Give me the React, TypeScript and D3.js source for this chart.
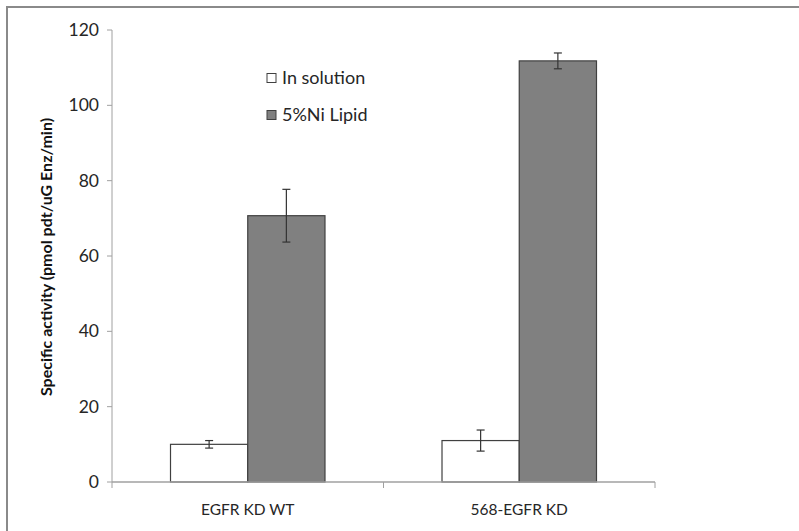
import React from "react";
import * as d3 from "d3";

const categories = ["EGFR KD WT", "568-EGFR KD"];
const seriesNames = ["In solution", "5%Ni Lipid"];
const inSolution = [10, 11];
const inSolutionErr = [1.0, 2.8];
const niLipid = [70.7, 111.8];
const niLipidErr = [7.0, 2.1];
const yTicks = [0, 20, 40, 60, 80, 100, 120];

const colors = ["#ffffff", "#808080"];

export default function App() {
  const width = 799, height = 531;
  const margin = { top: 30, left: 112, right: 144, bottom: 49 };
  const plotRight = width - margin.right;
  const plotBottom = height - margin.bottom;

  const x = d3.scaleBand().domain(categories).range([margin.left, plotRight])
    .paddingInner(0.431).paddingOuter(0.2155);
  const xs = d3.scaleBand().domain(seriesNames).range([0, x.bandwidth()]);
  const y = d3.scaleLinear().domain([0, 120]).range([plotBottom, margin.top]);

  const series = [
    { name: seriesNames[0], values: inSolution, errs: inSolutionErr, color: colors[0] },
    { name: seriesNames[1], values: niLipid, errs: niLipidErr, color: colors[1] },
  ];

  const font = "Lato, 'Open Sans', sans-serif";
  const axisColor = "#a0a0a0";
  const step = x.step();
  const boundaries = [margin.left, margin.left + step, plotRight];

  return (
    <div style={{ position: "fixed", left: 0, top: 0 }}>
      <svg width={width} height={height} style={{ display: "block", background: "#fff" }}>
        {/* outer frame */}
        <path d={`M7,${height} V7 H${width}`} fill="none" stroke="#8a8a8a" strokeWidth={2} />

        {/* y axis */}
        <line x1={margin.left} x2={margin.left} y1={y(120)} y2={plotBottom} stroke={axisColor} />
        {yTicks.map(t => (
          <g key={t}>
            <line x1={margin.left - 5} x2={margin.left} y1={y(t)} y2={y(t)} stroke={axisColor} />
            <text x={margin.left - 13} y={y(t)} dy="0.35em" textAnchor="end"
              fontFamily={font} fontSize={17.5} fill="#262626">{t}</text>
          </g>
        ))}

        {/* bars */}
        {series.map(s => categories.map((c, i) => {
          const bx = (x(c) ?? 0) + (xs(s.name) ?? 0);
          const top = y(s.values[i]);
          return (
            <rect key={s.name + c} x={bx} y={top} width={xs.bandwidth()} height={plotBottom - top}
              fill={s.color} stroke="#404040" strokeWidth={1.2} />
          );
        }))}

        {/* error bars */}
        {series.map(s => categories.map((c, i) => {
          const cx = (x(c) ?? 0) + (xs(s.name) ?? 0) + xs.bandwidth() / 2;
          const hi = y(s.values[i] + s.errs[i]);
          const lo = y(s.values[i] - s.errs[i]);
          return (
            <g key={"e" + s.name + c} stroke="#333" strokeWidth={1.2}>
              <line x1={cx} x2={cx} y1={hi} y2={lo} />
              <line x1={cx - 4} x2={cx + 4} y1={hi} y2={hi} />
              <line x1={cx - 4} x2={cx + 4} y1={lo} y2={lo} />
            </g>
          );
        }))}

        {/* x axis */}
        <line x1={margin.left} x2={plotRight} y1={plotBottom} y2={plotBottom} stroke={axisColor} strokeWidth={1.5} />
        {boundaries.map((b, i) => (
          <line key={i} x1={b} x2={b} y1={plotBottom} y2={plotBottom + 6} stroke={axisColor} />
        ))}
        {categories.map(c => (
          <text key={c} x={(x(c) ?? 0) + x.bandwidth() / 2} y={515} textAnchor="middle"
            fontFamily={font} fontSize={15.5} fill="#262626">{c}</text>
        ))}

        {/* y title */}
        <text transform={`translate(52,${(margin.top + plotBottom) / 2 + 1}) rotate(-90)`} textAnchor="middle"
          fontFamily={font} fontSize={16} fontWeight="bold" fill="#111">
          Specific activity (pmol pdt/uG Enz/min)
        </text>

        {/* legend */}
        {series.map((s, i) => (
          <g key={"l" + s.name} transform={`translate(267,${78 + i * 37})`}>
            <rect x={0} y={-4.5} width={9} height={9} fill={s.color} stroke="#404040" />
            <text x={15} y={0} dy="0.35em" fontFamily={font} fontSize={18} fill="#262626">{s.name}</text>
          </g>
        ))}
      </svg>
    </div>
  );
}
